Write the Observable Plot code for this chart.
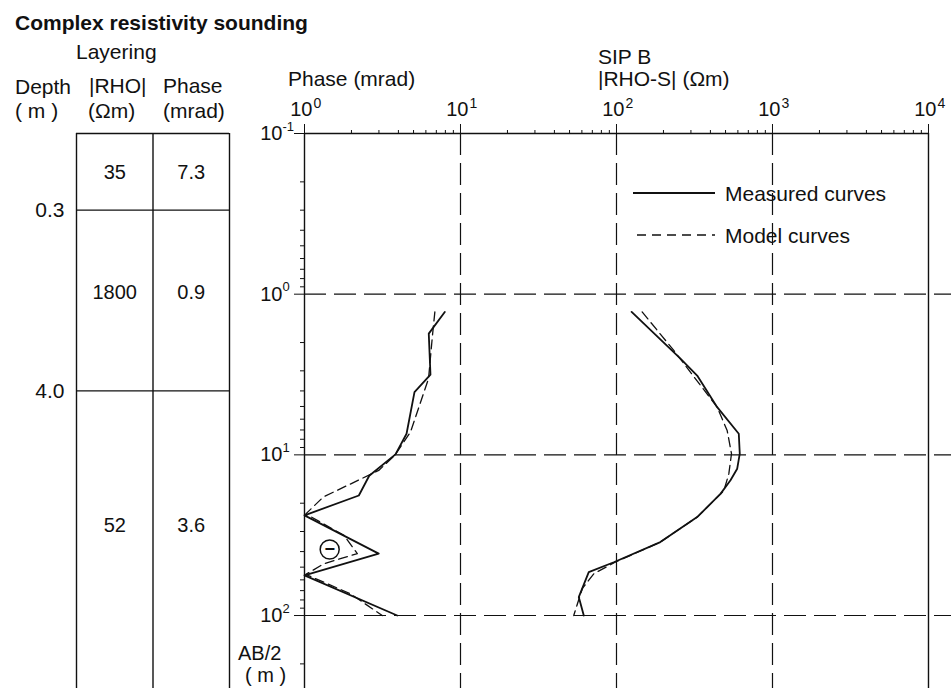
<!DOCTYPE html>
<html><head><meta charset="utf-8">
<script src="https://cdn.jsdelivr.net/npm/d3@7"></script>
<script src="https://cdn.jsdelivr.net/npm/@observablehq/plot@0.6"></script>
<style>
body{margin:0;background:#fff;}
#wrap{position:relative;width:951px;height:688px;overflow:hidden;font-family:"Liberation Sans",Arial,sans-serif;color:#111;}
#wrap > svg{position:absolute;left:0;top:0;}
.t{position:absolute;white-space:nowrap;}
</style></head><body><div id="wrap"></div>
<script>
// ---------- data ----------
// layering model (depth in m)
const layerTop = [0.1, 0.3, 4.0];
const layerRho = [35, 1800, 52];
const layerPhase = [7.3, 0.9, 3.6];
const layerLabelDepth = [0.175, 0.98, 27.5];
const boundaryDepth = [0.3, 4.0];

// phase curves: AB/2 (m) and phase (mrad)
const phaseMeasAB  = [1.29, 1.76, 3.17, 4.07, 7.39, 9.94, 13.5, 17.9, 23.8, 41.2, 56.3, 100];
const phaseMeasVal = [7.93, 6.26, 6.42, 5.07, 4.51, 3.83, 2.6, 2.23, 1.0, 2.99, 1.0, 3.93];
const phaseModAB   = [1.29, 1.81, 3.35, 7.22, 10.1, 12.5, 18.3, 23.3, 31.7, 41.2, 47.6, 55.5, 73.2, 100];
const phaseModVal  = [6.85, 6.61, 6.24, 4.78, 3.78, 2.99, 1.32, 1.02, 1.79, 2.18, 1.33, 1.02, 1.97, 3.15];

// apparent resistivity curves: AB/2 (m) and |RHO-S| (Ohm m)
const rhoMeasAB  = [1.29, 2.52, 3.21, 5.05, 7.39, 9.84, 12.2, 14.4, 17.5, 24.4, 34.9, 46.6, 53.7, 76.8, 100];
const rhoMeasVal = [125, 257, 329, 442, 608, 617, 594, 538, 464, 329, 191, 96.1, 66.4, 57.3, 61.7];
const rhoModAB   = [1.29, 2.24, 5.05, 7.05, 9.84, 13.1, 16.7, 24.4, 34.9, 46.6, 55.0, 68.1, 100];
const rhoModVal  = [146, 233, 442, 512, 546, 525, 488, 329, 191, 98, 71.5, 60.3, 53.2];

// negative-phase annotation
const negAB = [38.8];
const negPhase = [1.45];

// axes
const xMajor = [1, 10, 100, 1000, 10000];
const yMajor = [0.1, 1, 10, 100];
const xDomain = [1, 14044];
const yDomain = [0.1, 284.6];

// ---------- helpers ----------
const ink = "#111";
const font = "'Liberation Sans', Arial, sans-serif";
const xMinor = [];
for (let e = 0; e < 4; e++) for (let m = 2; m <= 9; m++) xMinor.push(m * 10 ** e);
const yMinor = [];
for (let e = -1; e < 3; e++) for (let m = 2; m <= 9; m++) { const v = m * 10 ** e; if (v < yDomain[1]) yMinor.push(v); }
const toPts = (a, b) => a.map((d, i) => ({ab: d, v: b[i]}));
const exp10 = d => String(Math.round(Math.log10(d)));

const wrap = document.getElementById("wrap");

// ---------- layering table ----------
const layers = layerTop.map((d, i) => ({top: d, rho: layerRho[i], phase: layerPhase[i], at: layerLabelDepth[i]}));
const table = Plot.plot({
  width: 240, height: 688,
  marginTop: 133, marginBottom: 0, marginLeft: 76, marginRight: 11,
  style: {background: "transparent", fontFamily: font, overflow: "visible"},
  x: {type: "linear", domain: [0, 2], axis: null},
  y: {type: "log", domain: yDomain, reverse: true, axis: null},
  marks: [
    Plot.ruleX([0, 1, 2], {y1: yDomain[0], y2: yDomain[1], stroke: ink, strokeWidth: 1.4}),
    Plot.ruleY(layerTop, {x1: 0, x2: 2, stroke: ink, strokeWidth: 1.4}),
    Plot.text(layers, {x: 0.5, y: "at", text: d => String(d.rho), fontSize: 20, fill: ink}),
    Plot.text(layers, {x: 1.5, y: "at", text: d => d.phase.toFixed(1), fontSize: 20, fill: ink}),
    Plot.text(boundaryDepth, {x: 0, y: d => d, text: d => d.toFixed(1), textAnchor: "end", dx: -12, fontSize: 21, fill: ink})
  ]
});
wrap.appendChild(table);

// ---------- main chart ----------
const dash = "22,8";
const chart = Plot.plot({
  width: 951, height: 688,
  marginTop: 133, marginBottom: 0, marginLeft: 304, marginRight: 0,
  style: {background: "transparent", fontFamily: font, overflow: "visible"},
  x: {type: "log", domain: xDomain},
  y: {type: "log", domain: yDomain, reverse: true},
  marks: [
    // grid
    Plot.ruleX(xMajor.slice(1, 4), {y1: yDomain[0], y2: yDomain[1], stroke: ink, strokeWidth: 1.2, strokeDasharray: dash}),
    Plot.ruleY(yMajor.slice(1), {x1: xDomain[0], x2: xDomain[1], stroke: ink, strokeWidth: 1.2, strokeDasharray: dash}),
    // frame lines
    Plot.ruleY([yDomain[0]], {x1: xMajor[0], x2: xMajor[4], stroke: ink, strokeWidth: 1.4}),
    Plot.ruleX([xMajor[0]], {y1: yDomain[0], y2: yDomain[1], stroke: ink, strokeWidth: 1.4}),
    Plot.ruleX([xMajor[4]], {y1: yDomain[0], y2: yDomain[1], stroke: ink, strokeWidth: 1.4}),
    // ticks
    Plot.axisX(xMinor, {anchor: "top", tickSize: 4, tickFormat: () => "", label: null, stroke: ink}),
    Plot.axisX(xMajor, {anchor: "top", tickSize: 10, tickFormat: () => "", label: null, stroke: ink}),
    Plot.axisY(yMinor, {anchor: "left", tickSize: 4, tickFormat: () => "", label: null, stroke: ink}),
    Plot.axisY(yMajor, {anchor: "left", tickSize: 10, tickFormat: () => "", label: null, stroke: ink}),
    // tick labels
    Plot.text(xMajor, {x: d => d, frameAnchor: "top", text: () => "10", textAnchor: "end", lineAnchor: "bottom", dx: 8, dy: -18, fontSize: 20, fill: ink}),
    Plot.text(xMajor, {x: d => d, frameAnchor: "top", text: exp10, textAnchor: "start", lineAnchor: "bottom", dx: 9, dy: -26, fontSize: 14, fill: ink}),
    Plot.text(yMajor, {y: d => d, frameAnchor: "left", text: () => "10", textAnchor: "end", lineAnchor: "middle", dx: -22, fontSize: 20, fill: ink}),
    Plot.text(yMajor, {y: d => d, frameAnchor: "left", text: exp10, textAnchor: "start", lineAnchor: "middle", dx: -22, dy: -7, fontSize: 13, fill: ink}),
    // curves
    Plot.line(toPts(phaseMeasAB, phaseMeasVal), {x: "v", y: "ab", stroke: ink, strokeWidth: 1.8}),
    Plot.line(toPts(phaseModAB, phaseModVal), {x: "v", y: "ab", stroke: ink, strokeWidth: 1.3, strokeDasharray: "9,5"}),
    Plot.line(toPts(rhoMeasAB, rhoMeasVal), {x: "v", y: "ab", stroke: ink, strokeWidth: 1.8}),
    Plot.line(toPts(rhoModAB, rhoModVal), {x: "v", y: "ab", stroke: ink, strokeWidth: 1.3, strokeDasharray: "9,5"}),
    // negative phase marker
    Plot.dot(toPts(negAB, negPhase), {x: "v", y: "ab", r: 9.5, stroke: ink, strokeWidth: 1.5, fill: "none"}),
    Plot.text(toPts(negAB, negPhase), {x: "v", y: "ab", text: () => "\u2212", fontSize: 18, fontWeight: "bold", fill: ink})
  ]
});
wrap.appendChild(chart);

// ---------- headings and labels (outside the plotting frame) ----------
function label(txt, x, baseline, size = 21, weight = "normal") {
  const s = document.createElement("div");
  s.className = "t";
  s.textContent = txt;
  s.style.left = x + "px";
  s.style.fontSize = size + "px";
  s.style.lineHeight = size + "px";
  s.style.fontWeight = weight;
  s.style.top = (baseline - 0.8465 * size) + "px";
  wrap.appendChild(s);
}
label("Complex resistivity sounding", 15, 30, 21, "bold");
label("Layering", 76, 59);
label("Depth", 15, 94);
label("( m )", 15, 118);
label("|RHO|", 89, 93);
label("(\u03A9m)", 88, 118);
label("Phase", 163, 93);
label("(mrad)", 163, 118);
label("Phase (mrad)", 288, 86);
label("SIP B", 598, 64);
label("|RHO-S| (\u03A9m)", 598, 86);
label("AB/2", 238, 660, 20);
label("( m )", 245, 682, 20);

// legend
const leg = document.createElement("div");
leg.style.cssText = "position:absolute;left:630px;top:180px;width:300px;height:70px;";
leg.innerHTML = `<svg width="300" height="70" style="position:absolute;left:0;top:0">
<line x1="3" y1="13" x2="85" y2="13" stroke="${ink}" stroke-width="1.8"/>
<line x1="7" y1="55" x2="85" y2="55" stroke="${ink}" stroke-width="1.3" stroke-dasharray="9,6"/></svg>`;
wrap.appendChild(leg);
label("Measured curves", 725, 201, 21);
label("Model curves", 725, 243, 21);
</script></body></html>
